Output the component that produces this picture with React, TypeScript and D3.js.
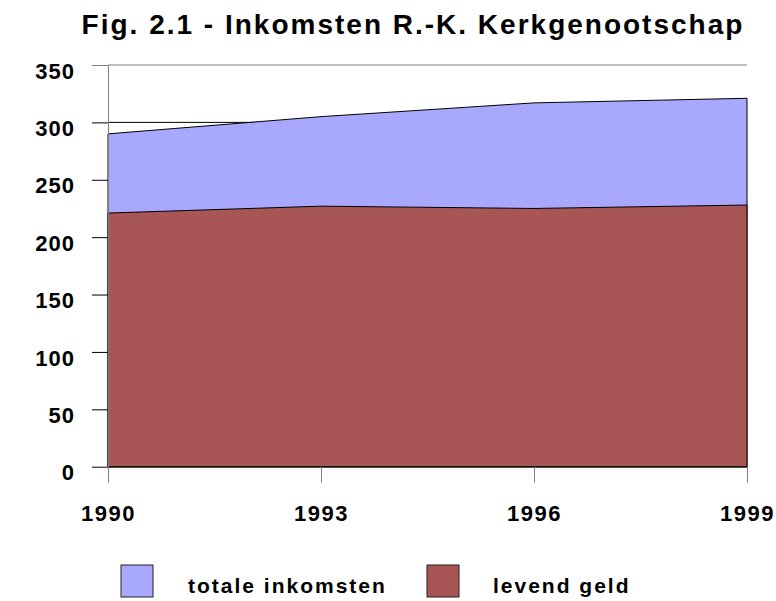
import React, { useRef, useEffect } from "react";
import * as d3 from "d3";

const years = [1990, 1993, 1996, 1999];
const totaleInkomsten = [290, 305, 317, 321];
const levendGeld = [221, 227, 225, 228];
const yTicks = [0, 50, 100, 150, 200, 250, 300, 350];

const W = 776;
const H = 601;
const FONT = "'Liberation Sans', Arial, sans-serif";

export default function App() {
    const svgRef = useRef<SVGSVGElement | null>(null);

    useEffect(() => {
        const svg = d3.select(svgRef.current);
        svg.selectAll("*").remove();

        const x = d3.scaleLinear().domain([1990, 1999]).range([108, 747]);
        const y = d3.scaleLinear().domain([0, 350]).range([466.7, 65]);

        // gridlines behind the areas
        svg.append("g")
            .selectAll("line")
            .data(yTicks.filter((d) => d > 0))
            .join("line")
            .attr("x1", 108)
            .attr("x2", 747)
            .attr("y1", (d) => y(d))
            .attr("y2", (d) => y(d))
            .attr("stroke", (d) => (d === 350 ? "#808080" : "#000"))
            .attr("stroke-width", 1);

        const totalData = years.map((yr, i) => ({ yr, v: totaleInkomsten[i] }));
        const levendData = years.map((yr, i) => ({ yr, v: levendGeld[i] }));

        const area = d3.area<{ yr: number; v: number }>()
            .x((d) => x(d.yr))
            .y0(y(0))
            .y1((d) => y(d.v));

        svg.append("path")
            .datum(totalData)
            .attr("d", area)
            .attr("fill", "#a8a8ff")
            .attr("stroke", "#000")
            .attr("stroke-width", 1);

        svg.append("path")
            .datum(levendData)
            .attr("d", area)
            .attr("fill", "#a85555")
            .attr("stroke", "#000")
            .attr("stroke-width", 1);

        // left axis
        const yAxis = svg.append("g")
            .attr("transform", "translate(108,0)")
            .call(d3.axisLeft(y).tickValues(yTicks).tickSize(16).tickPadding(17).tickSizeOuter(0));
        yAxis.select(".domain").attr("stroke", "#808080");
        yAxis.selectAll(".tick line").attr("stroke", (d: any) => (d === 350 ? "#808080" : "#000"));
        yAxis.selectAll(".tick text")
            .attr("font-family", FONT)
            .attr("font-weight", "bold")
            .attr("font-size", 22)
            .attr("letter-spacing", 1)
            .attr("fill", "#000")
            .attr("dy", "0.6em");

        // bottom axis
        const xAxis = svg.append("g")
            .attr("transform", `translate(0,${y(0)})`)
            .call(d3.axisBottom(x).tickValues(years).tickFormat(d3.format("d")).tickSize(16).tickPadding(23).tickSizeOuter(0));
        xAxis.select(".domain").attr("stroke", "#222");
        xAxis.selectAll(".tick line").attr("stroke", "#808080");
        xAxis.selectAll(".tick text")
            .attr("font-family", FONT)
            .attr("font-weight", "bold")
            .attr("font-size", 22)
            .attr("letter-spacing", 1.5)
            .attr("fill", "#000");

        // title
        svg.append("text")
            .attr("x", 413)
            .attr("y", 34)
            .attr("text-anchor", "middle")
            .attr("font-family", FONT)
            .attr("font-weight", "bold")
            .attr("font-size", 28)
            .attr("letter-spacing", 2)
            .text("Fig. 2.1 - Inkomsten R.-K. Kerkgenootschap");

        // legend
        const legend = [
            { label: "totale inkomsten", color: "#a8a8ff", bx: 121, tx: 188 },
            { label: "levend geld", color: "#a85555", bx: 427, tx: 493 },
        ];
        const lg = svg.append("g");
        lg.selectAll("rect")
            .data(legend)
            .join("rect")
            .attr("x", (d) => d.bx)
            .attr("y", 565)
            .attr("width", 32)
            .attr("height", 32)
            .attr("fill", (d) => d.color)
            .attr("stroke", "#222")
            .attr("stroke-width", 1);
        lg.selectAll("text")
            .data(legend)
            .join("text")
            .attr("x", (d) => d.tx)
            .attr("y", 593)
            .attr("font-family", FONT)
            .attr("font-weight", "bold")
            .attr("font-size", 21)
            .attr("letter-spacing", 2)
            .text((d) => d.label);
    }, []);

    return (
        <svg
            ref={svgRef}
            width={W}
            height={H}
            style={{ position: "absolute", left: 0, top: 0, background: "#fff" }}
        />
    );
}
